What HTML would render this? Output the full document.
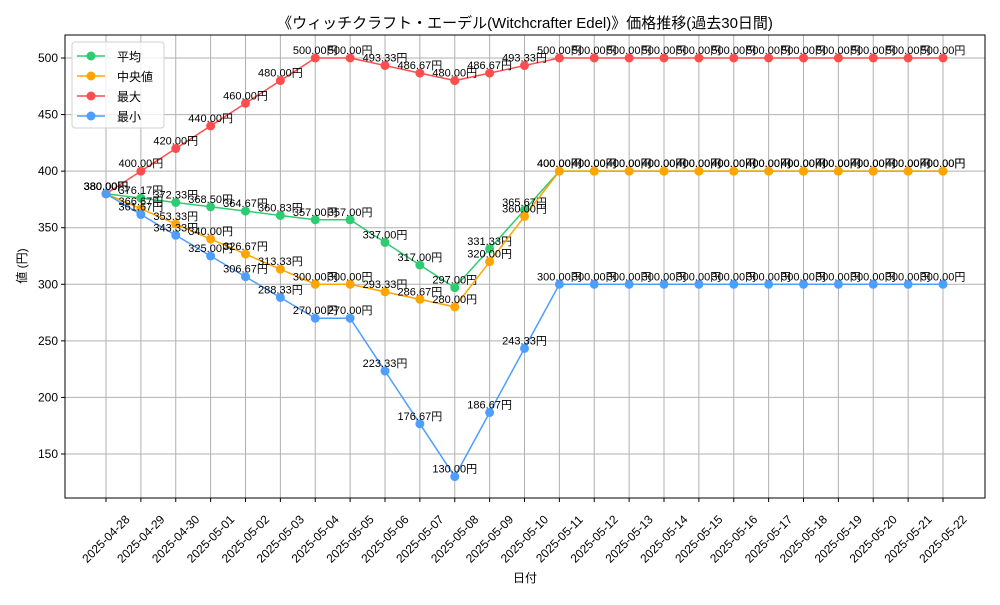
<!DOCTYPE html>
<html><head><meta charset="utf-8"><style>
body{margin:0;background:#fff;}
text{font-family:"Liberation Sans","Noto Sans CJK JP",sans-serif;}
</style></head><body>
<svg id="chart" width="1000" height="600" xmlns="http://www.w3.org/2000/svg">
<rect width="1000" height="600" fill="#fff"/>
<text x="525" y="28" text-anchor="middle" font-size="15">《ウィッチクラフト・エーデル(Witchcrafter Edel)》価格推移(過去30日間)</text>
<g id="grid"></g>
<rect x="65" y="35" width="920" height="463" fill="none" stroke="#000" stroke-width="1"/>
<g id="axes"></g>
<g id="series"></g>
<text x="525" y="582" text-anchor="middle" font-size="12">日付</text>
<text x="26" y="266" text-anchor="middle" font-size="12" transform="rotate(-90 26 266)">値 (円)</text>
<g id="legend"></g>
</svg>
<script>
const dates=["2025-04-28","2025-04-29","2025-04-30","2025-05-01","2025-05-02","2025-05-03","2025-05-04","2025-05-05","2025-05-06","2025-05-07","2025-05-08","2025-05-09","2025-05-10","2025-05-11","2025-05-12","2025-05-13","2025-05-14","2025-05-15","2025-05-16","2025-05-17","2025-05-18","2025-05-19","2025-05-20","2025-05-21","2025-05-22"];
const avgValues=[380,376.17,372.33,368.50,364.67,360.83,357,357,337,317,297,331.33,365.67,400,400,400,400,400,400,400,400,400,400,400,400];
const medianValues=[380,366.67,353.33,340,326.67,313.33,300,300,293.33,286.67,280,320,360,400,400,400,400,400,400,400,400,400,400,400,400];
const maxValues=[380,400,420,440,460,480,500,500,493.33,486.67,480,486.67,493.33,500,500,500,500,500,500,500,500,500,500,500,500];
const minValues=[380,361.67,343.33,325,306.67,288.33,270,270,223.33,176.67,130,186.67,243.33,300,300,300,300,300,300,300,300,300,300,300,300];
const yTicks=[150,200,250,300,350,400,450,500];
const seriesNames=["平均","中央値","最大","最小"];
const colors=["#2ecc71","#ffa500","#ff4d4d","#4d9eff"];

const NS="http://www.w3.org/2000/svg";
const x=i=>106+i*(943-106)/(dates.length-1);
const y=v=>58+(500-v)*(454-58)/350;
function mk(tag,attrs,parent){const e=document.createElementNS(NS,tag);for(const k in attrs)e.setAttribute(k,attrs[k]);parent.appendChild(e);return e;}
const grid=document.getElementById('grid'),axes=document.getElementById('axes'),ser=document.getElementById('series'),leg=document.getElementById('legend');
dates.forEach((d,i)=>{
  const gl=mk('line',{x1:x(i),x2:x(i),y1:35,y2:498,stroke:'#b0b0b0','stroke-width':1},grid);
  
  
  const tk=mk('line',{x1:x(i),x2:x(i),y1:498,y2:502,stroke:'#000'},axes);
  
  
  const t=mk('text',{x:x(i),y:543,'text-anchor':'middle','font-size':12,transform:`rotate(-45 ${x(i)} 539)`},axes);
  t.textContent=d;
  
  
});
yTicks.forEach(v=>{
  const gl=mk('line',{x1:65,x2:985,y1:y(v),y2:y(v),stroke:'#b0b0b0','stroke-width':1},grid);
  
  
  const tk=mk('line',{x1:61,x2:65,y1:y(v),y2:y(v),stroke:'#000'},axes);
  
  
  const t=mk('text',{x:58,y:y(v)+4,'text-anchor':'end','font-size':12},axes);
  t.textContent=v;
  
  
});
[avgValues,medianValues,maxValues,minValues].forEach((vals,s)=>{
  const g=mk('g',{},ser);
  
  
  const pl=mk('polyline',{points:vals.map((v,i)=>x(i)+','+y(v)).join(' '),fill:'none',stroke:colors[s],'stroke-width':1.5},g);
  
  
  vals.forEach((v,i)=>{
    const c=mk('circle',{cx:x(i),cy:y(v),r:4.5,fill:colors[s]},g);
    
    
  });
  vals.forEach((v,i)=>{
    const t=mk('text',{x:x(i),y:y(v)-4,'text-anchor':'middle','font-size':11},g);
    t.textContent=v.toFixed(2)+'円';
    
    
  });
});
const lb=mk('rect',{x:72,y:42,width:92,height:86,rx:3,fill:'#fff','fill-opacity':0.8,stroke:'#d0d0d0'},leg);


seriesNames.forEach((n,s)=>{
  const yy=56+s*20;
  const g=mk('g',{},leg);
  
  
  mk('line',{x1:77,x2:105,y1:yy,y2:yy,stroke:colors[s],'stroke-width':1.5},g);
  mk('circle',{cx:91,cy:yy,r:4.5,fill:colors[s]},g);
  const t=mk('text',{x:117,y:yy+5,'font-size':12},g);
  t.textContent=n;
});
</script>
</body></html>
